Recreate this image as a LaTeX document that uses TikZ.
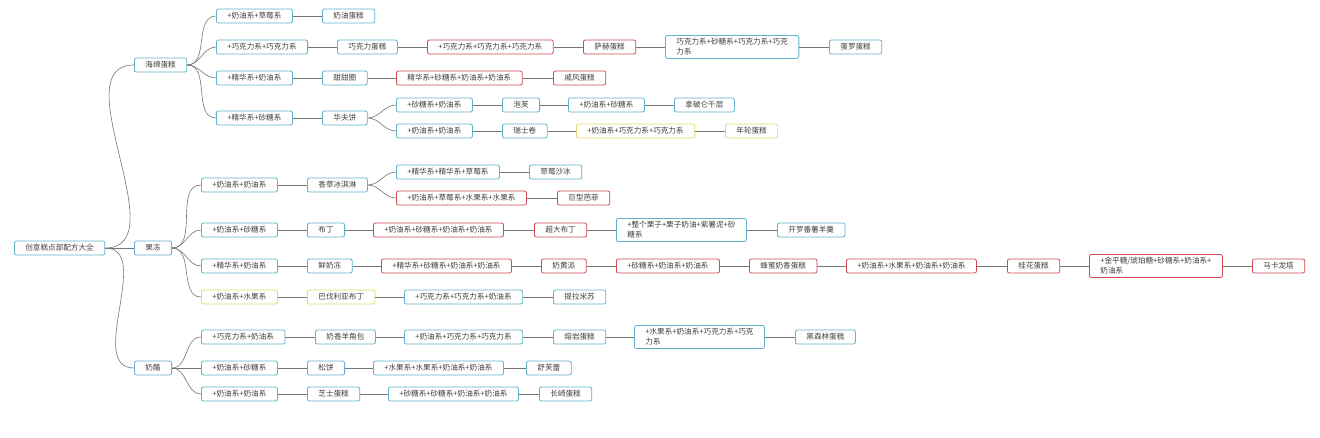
\documentclass[tikz,border=0pt]{standalone}
\usepackage{fontspec}
\setmainfont{Noto Sans CJK SC}
\definecolor{lineblue}{RGB}{98,178,206}
\definecolor{linered}{RGB}{212,72,84}
\definecolor{lineyellow}{RGB}{228,218,110}
\definecolor{textgray}{RGB}{64,64,64}
\definecolor{branchgray}{RGB}{118,118,118}
\begin{document}
\begin{tikzpicture}[x=1pt,y=-1pt,
    box/.style={draw=lineblue,fill=white,line width=0.8pt,rounded corners=2pt,anchor=west,
        inner xsep=11pt,inner ysep=3pt,minimum height=14pt,align=left,text=textgray,
        font=\fontsize{7.6}{10}\selectfont},
    redbox/.style={box,draw=linered},
    yellowbox/.style={box,draw=lineyellow},
    every path/.style={draw=branchgray,line width=0.6pt}]
        \useasboundingbox[fill=white,draw=none] (0,0) rectangle (1320,437);
        % root and main branches
        \node[box] (Root) at (14,248) {创意糕点部配方大全};
        \node[box] (Sponge) at (134,65) {海绵蛋糕};
        \node[box] (Jelly) at (134,248) {果冻};
        \node[box] (Cheese) at (134,368) {奶酪};
        % sponge cake
        \node[box] (Sponge_1) at (216,16) {+奶油系+草莓系};
        \node[box] (Cream_cake) at (322,16) {奶油蛋糕};
        \node[box] (Sponge_2) at (216,47) {+巧克力系+巧克力系};
        \node[box] (Choc_cake) at (337,47) {巧克力蛋糕};
        \node[redbox] (Choc_3) at (427,47) {+巧克力系+巧克力系+巧克力系};
        \node[redbox] (Sacher) at (583,47) {萨赫蛋糕};
        \node[box] (Choc_4) at (665,47) {巧克力系+砂糖系+巧克力系+巧克\\力系};
        \node[box] (Opera) at (829,47) {蛋罗蛋糕};
        \node[box] (Sponge_3) at (216,78) {+精华系+奶油系};
        \node[box] (Donut) at (322,78) {甜甜圈};
        \node[redbox] (Donut_4) at (396,78) {精华系+砂糖系+奶油系+奶油系};
        \node[redbox] (Chiffon) at (553,78) {戚风蛋糕};
        \node[box] (Sponge_4) at (216,118) {+精华系+砂糖系};
        \node[box] (Waffle) at (322,118) {华夫饼};
        \node[box] (Waffle_a) at (396,105) {+砂糖系+奶油系};
        \node[box] (Puff) at (502,105) {泡芙};
        \node[box] (Puff_2) at (568,105) {+奶油系+砂糖系};
        \node[box] (Napoleon) at (674,105) {拿破仑千层};
        \node[box] (Waffle_b) at (396,131) {+奶油系+奶油系};
        \node[box] (Swiss_roll) at (502,131) {瑞士卷};
        \node[yellowbox] (Swiss_3) at (576,131) {+奶油系+巧克力系+巧克力系};
        \node[yellowbox] (Baumkuchen) at (725,131) {年轮蛋糕};
        % jelly
        \node[box] (Jelly_1) at (201,185) {+奶油系+奶油系};
        \node[box] (Vanilla) at (307,185) {香草冰淇淋};
        \node[box] (Vanilla_a) at (396,172) {+精华系+精华系+草莓系};
        \node[box] (Smoothie) at (529,172) {草莓沙冰};
        \node[redbox] (Vanilla_b) at (396,198) {+奶油系+草莓系+水果系+水果系};
        \node[redbox] (Parfait) at (557,198) {巨型芭菲};
        \node[box] (Jelly_2) at (201,230) {+奶油系+砂糖系};
        \node[box] (Pudding) at (307,230) {布丁};
        \node[redbox] (Pudding_4) at (373,230) {+奶油系+砂糖系+奶油系+奶油系};
        \node[redbox] (Big_pudding) at (534,230) {超大布丁};
        \node[box] (Chestnut) at (616,230) {+整个栗子+栗子奶油+紫薯泥+砂\\糖系};
        \node[box] (Yokan) at (777,230) {开罗番薯羊羹};
        \node[box] (Jelly_3) at (201,266) {+精华系+奶油系};
        \node[box] (Panna) at (307,266) {鲜奶冻};
        \node[redbox] (Panna_4) at (381,266) {+精华系+砂糖系+奶油系+奶油系};
        \node[redbox] (Custard) at (541,266) {奶黄派};
        \node[redbox] (Custard_3) at (616,266) {+砂糖系+奶油系+奶油系};
        \node[redbox] (Honey) at (749,266) {蜂蜜奶香蛋糕};
        \node[redbox] (Honey_4) at (846,266) {+奶油系+水果系+奶油系+奶油系};
        \node[redbox] (Osmanthus) at (1007,266) {桂花蛋糕};
        \node[redbox] (Konpeito) at (1089,266) {+金平糖/琥珀糖+砂糖系+奶油系+\\奶油系};
        \node[redbox] (Macaron) at (1252,266) {马卡龙塔};
        \node[yellowbox] (Jelly_4) at (201,297) {+奶油系+水果系};
        \node[yellowbox] (Bavarois) at (307,297) {巴伐利亚布丁};
        \node[box] (Bavarois_3) at (404,297) {+巧克力系+巧克力系+奶油系};
        \node[box] (Tiramisu) at (553,297) {提拉米苏};
        % cheese
        \node[box] (Cheese_1) at (201,337) {+巧克力系+奶油系};
        \node[box] (Croissant) at (315,337) {奶香羊角包};
        \node[box] (Croissant_3) at (404,337) {+奶油系+巧克力系+巧克力系};
        \node[box] (Lava) at (553,337) {熔岩蛋糕};
        \node[box] (Lava_4) at (634,337) {+水果系+奶油系+巧克力系+巧克\\力系};
        \node[box] (Black_forest) at (795,337) {黑森林蛋糕};
        \node[box] (Cheese_2) at (201,368) {+奶油系+砂糖系};
        \node[box] (Muffin) at (307,368) {松饼};
        \node[box] (Muffin_4) at (373,368) {+水果系+水果系+奶油系+奶油系};
        \node[box] (Souffle) at (526,368) {舒芙蕾};
        \node[box] (Cheese_3) at (201,394) {+奶油系+奶油系};
        \node[box] (Cheesecake) at (307,394) {芝士蛋糕};
        \node[box] (Cheesecake_4) at (388,394) {+砂糖系+砂糖系+奶油系+奶油系};
        \node[box] (Castella) at (539,394) {长崎蛋糕};
        % branches
        \draw (Root.east) to[out=0,in=180] (Sponge.west);
        \draw (Root) -- (Jelly);
        \draw (Root.east) to[out=0,in=180] (Cheese.west);
        \draw (Sponge.east) to[out=0,in=180] (Sponge_1.west);
        \draw (Sponge.east) to[out=0,in=180] (Sponge_2.west);
        \draw (Sponge.east) to[out=0,in=180] (Sponge_3.west);
        \draw (Sponge.east) to[out=0,in=180] (Sponge_4.west);
        \draw (Sponge_1) -- (Cream_cake);
        \draw (Sponge_2) -- (Choc_cake);
        \draw (Choc_cake) -- (Choc_3);
        \draw (Choc_3) -- (Sacher);
        \draw (Sacher) -- (Choc_4);
        \draw (Choc_4) -- (Opera);
        \draw (Sponge_3) -- (Donut);
        \draw (Donut) -- (Donut_4);
        \draw (Donut_4) -- (Chiffon);
        \draw (Sponge_4) -- (Waffle);
        \draw (Waffle.east) to[out=0,in=180] (Waffle_a.west);
        \draw (Waffle.east) to[out=0,in=180] (Waffle_b.west);
        \draw (Waffle_a) -- (Puff);
        \draw (Puff) -- (Puff_2);
        \draw (Puff_2) -- (Napoleon);
        \draw (Waffle_b) -- (Swiss_roll);
        \draw (Swiss_roll) -- (Swiss_3);
        \draw (Swiss_3) -- (Baumkuchen);
        \draw (Jelly.east) to[out=0,in=180] (Jelly_1.west);
        \draw (Jelly.east) to[out=0,in=180] (Jelly_2.west);
        \draw (Jelly.east) to[out=0,in=180] (Jelly_3.west);
        \draw (Jelly.east) to[out=0,in=180] (Jelly_4.west);
        \draw (Jelly_1) -- (Vanilla);
        \draw (Vanilla.east) to[out=0,in=180] (Vanilla_a.west);
        \draw (Vanilla.east) to[out=0,in=180] (Vanilla_b.west);
        \draw (Vanilla_a) -- (Smoothie);
        \draw (Vanilla_b) -- (Parfait);
        \draw (Jelly_2) -- (Pudding);
        \draw (Pudding) -- (Pudding_4);
        \draw (Pudding_4) -- (Big_pudding);
        \draw (Big_pudding) -- (Chestnut);
        \draw (Chestnut) -- (Yokan);
        \draw (Jelly_3) -- (Panna);
        \draw (Panna) -- (Panna_4);
        \draw (Panna_4) -- (Custard);
        \draw (Custard) -- (Custard_3);
        \draw (Custard_3) -- (Honey);
        \draw (Honey) -- (Honey_4);
        \draw (Honey_4) -- (Osmanthus);
        \draw (Osmanthus) -- (Konpeito);
        \draw (Konpeito) -- (Macaron);
        \draw (Jelly_4) -- (Bavarois);
        \draw (Bavarois) -- (Bavarois_3);
        \draw (Bavarois_3) -- (Tiramisu);
        \draw (Cheese.east) to[out=0,in=180] (Cheese_1.west);
        \draw (Cheese) -- (Cheese_2);
        \draw (Cheese.east) to[out=0,in=180] (Cheese_3.west);
        \draw (Cheese_1) -- (Croissant);
        \draw (Croissant) -- (Croissant_3);
        \draw (Croissant_3) -- (Lava);
        \draw (Lava) -- (Lava_4);
        \draw (Lava_4) -- (Black_forest);
        \draw (Cheese_2) -- (Muffin);
        \draw (Muffin) -- (Muffin_4);
        \draw (Muffin_4) -- (Souffle);
        \draw (Cheese_3) -- (Cheesecake);
        \draw (Cheesecake) -- (Cheesecake_4);
        \draw (Cheesecake_4) -- (Castella);
    \end{tikzpicture}
\end{document}
